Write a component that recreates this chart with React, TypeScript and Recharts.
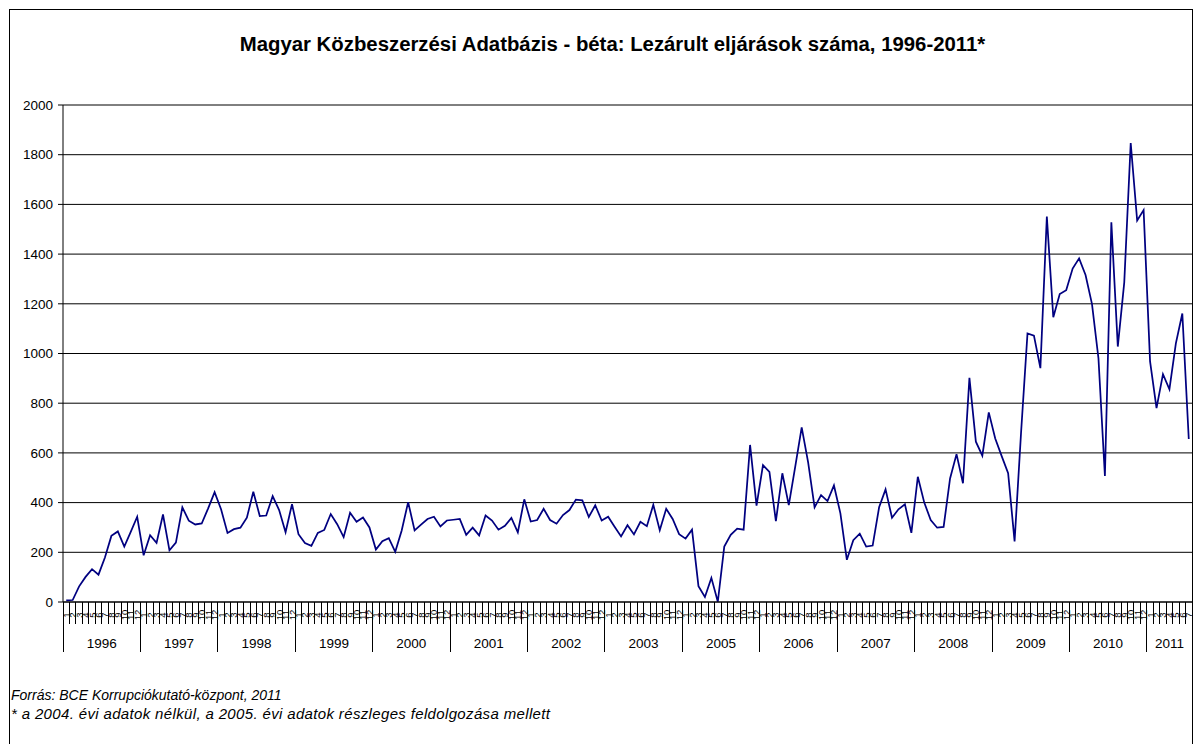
import { LineChart, Line, XAxis, YAxis, CartesianGrid } from "recharts";

// full-window canvas, no scrollbars
document.body.style.margin = "0";
document.documentElement.style.overflow = "hidden";

// Years on the category axis (2004 is missing in the source data)
const YEARS = [
  "1996", "1997", "1998", "1999", "2000", "2001", "2002", "2003",
  "2005", "2006", "2007", "2008", "2009", "2010", "2011",
];

// Monthly counts of closed procedures
const V1996 = [7, 8, 63, 101, 132, 110, 179, 266, 284, 223, 282, 343];
const V1997 = [188, 269, 238, 352, 208, 239, 381, 327, 312, 316, 377, 442];
const V1998 = [373, 278, 293, 299, 339, 444, 346, 348, 426, 370, 281, 394];
const V1999 = [273, 237, 226, 278, 290, 354, 313, 261, 359, 323, 340, 300];
const V2000 = [211, 245, 257, 202, 288, 402, 288, 311, 334, 343, 304, 328];
const V2001 = [331, 334, 270, 299, 268, 348, 328, 291, 307, 338, 280, 413];
const V2002 = [324, 330, 375, 330, 315, 350, 370, 412, 409, 342, 389, 328];
const V2003 = [343, 303, 264, 309, 272, 323, 305, 391, 289, 375, 334, 273];
const V2005 = [255, 291, 64, 20, 97, 1, 223, 270, 295, 291, 632, 388];
const V2006 = [551, 524, 325, 518, 390, 545, 703, 562, 381, 430, 406, 469];
const V2007 = [357, 170, 249, 275, 223, 227, 381, 453, 339, 373, 393, 278];
const V2008 = [504, 400, 330, 299, 302, 497, 595, 478, 902, 645, 589, 763];
const V2009 = [658, 587, 518, 244, 680, 1081, 1072, 941, 1551, 1146, 1239, 1255];
const V2010 = [1342, 1383, 1316, 1199, 981, 507, 1528, 1028, 1286, 1847, 1535, 1577];
const V2011 = [968, 780, 917, 856, 1041, 1161, 656];

const SERIES = [
  V1996, V1997, V1998, V1999, V2000, V2001, V2002, V2003,
  V2005, V2006, V2007, V2008, V2009, V2010, V2011,
];

const Y_TICKS = [0, 200, 400, 600, 800, 1000, 1200, 1400, 1600, 1800, 2000];

const TITLE = "Magyar Közbeszerzési Adatbázis - béta: Lezárult eljárások száma, 1996-2011*";
const SOURCE = "Forrás: BCE Korrupciókutató-központ, 2011";
const NOTE = "* a 2004. évi adatok nélkül, a 2005. évi adatok részleges feldolgozása mellett";

const rows = YEARS.flatMap((year, yi) =>
  SERIES[yi].map((value, mi) => ({
    key: `${year}-${mi + 1}`,
    year,
    month: mi + 1,
    count: SERIES[yi].length,
    value,
  }))
);

// layout (chart origin sits at page 8,8)
const PAGE_W = 1193;
const PAGE_H = 744;
const W = 1185;
const H = 728;
const YAXIS_W = 55;
const MARGIN = { top: 97, right: 1, bottom: 74, left: 0 };
const XAXIS_H = H - MARGIN.top - MARGIN.bottom - 497;
const PLOT_W = W - YAXIS_W - MARGIN.left - MARGIN.right;
const STEP = PLOT_W / rows.length;
const AXIS_Y = H - MARGIN.bottom - XAXIS_H;
const FONT = "'Liberation Sans', Arial, sans-serif";

const MonthTick = (props: any) => {
  const { x, payload } = props;
  const i = payload?.index ?? 0;
  const row = rows[i];
  if (!row) return null;
  const left = x - STEP / 2;
  const mid = Math.floor(row.count / 2);
  const isLast = i === rows.length - 1;
  return (
    <g>
      <line
        x1={left} x2={left} y1={AXIS_Y} y2={AXIS_Y + (row.month === 1 ? 50 : 22)}
        stroke="#000" shapeRendering="crispEdges"
      />
      {isLast && (
        <line
          x1={x + STEP / 2} x2={x + STEP / 2} y1={AXIS_Y} y2={AXIS_Y + 50}
          stroke="#000" shapeRendering="crispEdges"
        />
      )}
      <text
        transform={`translate(${x},${AXIS_Y + 13}) rotate(-90)`}
        fontSize={9.5}
        fontFamily={FONT}
        textAnchor="middle"
        dominantBaseline="central"
        fill="#000"
      >
        {row.month}
      </text>
      {row.month - 1 === mid && (
        <text
          x={x + (row.count / 2 - mid - 0.5) * STEP}
          y={AXIS_Y + 46}
          fontSize={13.5}
          fontFamily={FONT}
          textAnchor="middle"
          fill="#000"
        >
          {row.year}
        </text>
      )}
    </g>
  );
};

export default function App() {
  return (
    <div
      style={{
        position: "relative", width: PAGE_W, height: PAGE_H,
        overflow: "hidden", background: "#fff",
      }}
    >
      <div
        style={{
          position: "absolute", left: 9, top: 9, width: PAGE_W - 9, height: PAGE_H + 20,
          border: "1px solid #000", boxSizing: "border-box",
        }}
      />
      <div style={{ position: "absolute", left: 8, top: 8 }}>
        <LineChart width={W} height={H} data={rows} margin={MARGIN}>
          <CartesianGrid vertical={false} stroke="#000" strokeOpacity={1} />
          <XAxis
            dataKey="key"
            height={XAXIS_H}
            interval={0}
            tickLine={false}
            tick={<MonthTick />}
            padding={{ left: STEP / 2, right: STEP / 2 }}
            axisLine={{ stroke: "#000" }}
          />
          <YAxis
            width={YAXIS_W}
            domain={[0, 2000]}
            ticks={Y_TICKS}
            interval={0}
            tickSize={5}
            tickMargin={5}
            axisLine={{ stroke: "#000" }}
            tickLine={{ stroke: "#000" }}
            tick={{ fill: "#000", fontSize: 13.5, fontFamily: FONT }}
          />
          <Line
            type="linear"
            dataKey="value"
            stroke="#000080"
            strokeWidth={1.75}
            dot={false}
            isAnimationActive={false}
          />
        </LineChart>
      </div>
      <svg
        width={PAGE_W}
        height={PAGE_H}
        style={{ position: "absolute", left: 0, top: 0, pointerEvents: "none" }}
      >
        <text x={612.5} y={51} textAnchor="middle" fontSize={20.35} fontWeight="bold" fontFamily={FONT} fill="#000">
          {TITLE}
        </text>
        <text x={11} y={700} fontSize={14} fontStyle="italic" fontFamily={FONT} fill="#000">
          {SOURCE}
        </text>
        <text
          x={11} y={719} fontSize={15} fontStyle="italic" fontFamily={FONT} fill="#000"
          letterSpacing={0.35}
        >
          {NOTE}
        </text>
      </svg>
    </div>
  );
}
